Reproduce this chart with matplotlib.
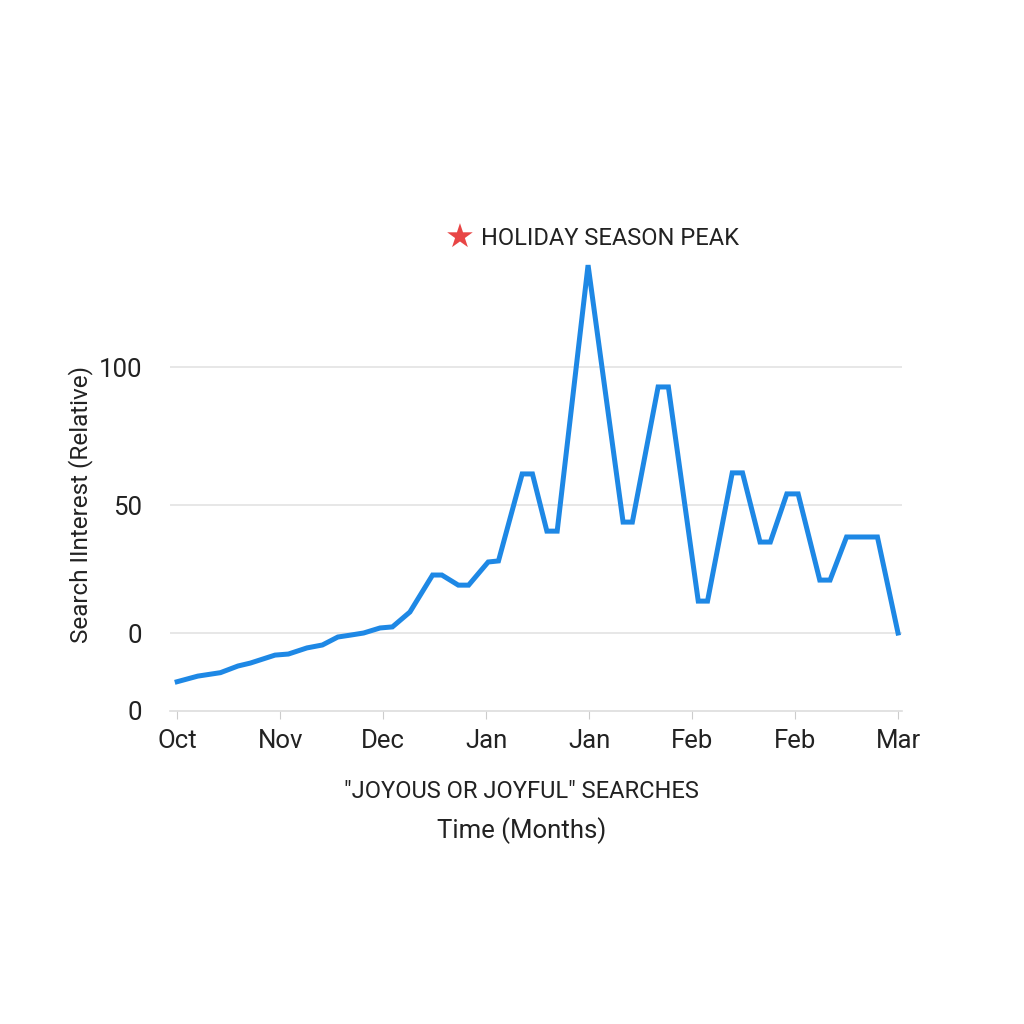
import matplotlib.pyplot as plt

# x positions in "tick units" (0 = Oct, 7 = Mar)
x_pos = [0, 0.20, 0.42, 0.59, 0.71, 0.95, 1.08, 1.26, 1.41, 1.56, 1.68, 1.81,
         1.97, 2.09, 2.26, 2.48, 2.57, 2.73, 2.83, 3.02, 3.12, 3.35, 3.45,
         3.59, 3.69, 3.99, 4.33, 4.42, 4.67, 4.77, 5.06, 5.15, 5.39, 5.49,
         5.66, 5.76, 5.92, 6.03, 6.24, 6.34, 6.50, 6.80, 7.00]
interest = [-18.3, -16.2, -14.9, -12.4, -11.3, -8.3, -7.9, -5.6, -4.5, -1.5,
            -0.8, 0, 1.9, 2.3, 7.9, 21.8, 21.8, 18.0, 18.0, 26.7, 27.1, 59.8,
            59.8, 38.3, 38.3, 138.3, 41.7, 41.7, 92.5, 92.5, 12.0, 12.0, 60.2,
            60.2, 34.2, 34.2, 52.3, 52.3, 19.9, 19.9, 36.1, 36.1, 0]

month_labels = ['Oct', 'Nov', 'Dec', 'Jan', 'Jan', 'Feb', 'Feb', 'Mar']
y_tick_pos = [-29.3, 0, 48, 100]
y_tick_labels = ['0', '0', '50', '100']

plt.rcParams['font.family'] = ['Roboto', 'DejaVu Sans']

fig = plt.figure(figsize=(10.24, 10.24), dpi=100)
ax = fig.add_axes([0.166, 0.3057, 0.715, 0.445])

ax.plot(x_pos, interest, color='#1E88E5', lw=3.6, solid_joinstyle='miter')

ax.set_xlim(-0.07, 7.04)
ax.set_ylim(-29.3, 142)
ax.set_xticks(range(len(month_labels)))
ax.set_xticklabels(month_labels, fontsize=18.5, color='#222222')
ax.set_yticks(y_tick_pos)
ax.set_yticklabels(y_tick_labels, fontsize=18.5, color='#222222')

for v in y_tick_pos[1:]:
    ax.axhline(v, color='#e3e3e3', lw=1.2, zorder=0)

for s in ['top', 'right', 'left']:
    ax.spines[s].set_visible(False)
ax.spines['bottom'].set_color('#dddddd')
ax.spines['bottom'].set_linewidth(1.2)
ax.tick_params(axis='x', color='#cccccc', length=6, pad=7)
ax.tick_params(axis='y', length=0, pad=20)

ax.set_ylabel('Search IInterest (Relative)', fontsize=17.5, color='#222222')
ax.yaxis.set_label_coords(-0.105, 0.453)

fig.text(0.509, 0.227, '"JOYOUS OR JOYFUL" SEARCHES', ha='center', va='center',
         fontsize=17, color='#222222')
fig.text(0.509, 0.189, 'Time (Months)', ha='center', va='center',
         fontsize=18.5, color='#222222')

fig.text(0.449, 0.767, '\u2605', ha='center', va='center', fontsize=24,
         color='#E84545', family='DejaVu Sans')
fig.text(0.470, 0.767, 'HOLIDAY SEASON PEAK', ha='left', va='center',
         fontsize=17, color='#222222')

fig.savefig('out.png', dpi=100, facecolor='white')
